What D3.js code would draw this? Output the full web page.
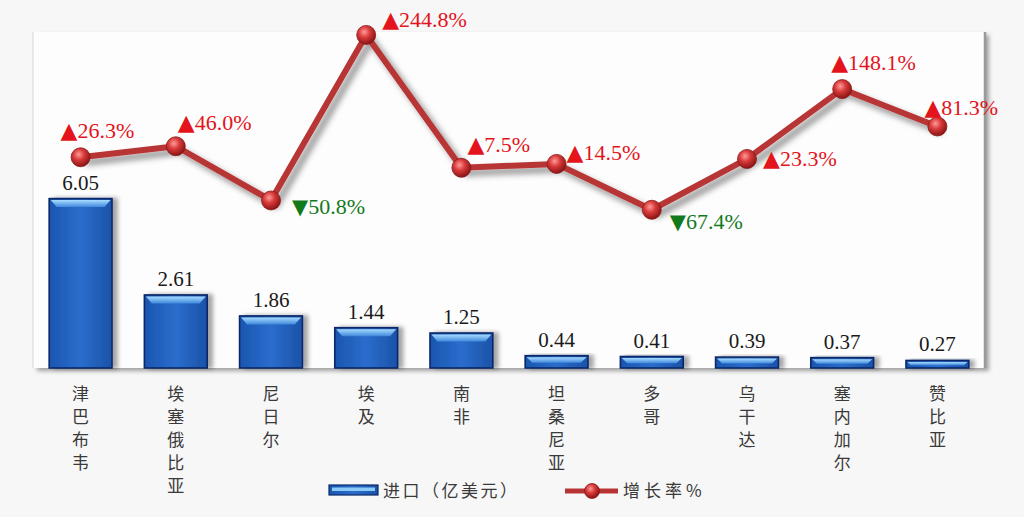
<!DOCTYPE html>
<html><head><meta charset="utf-8">
<script src="https://cdn.jsdelivr.net/npm/d3@7"></script>
<style>body{margin:0;background:#f7f7f7;overflow:hidden}</style>
</head><body>
<svg id="c" width="1024" height="517"></svg>
<script>
// ---- data ----
const categories = ["津巴布韦","埃塞俄比亚","尼日尔","埃及","南非","坦桑尼亚","多哥","乌干达","塞内加尔","赞比亚"];
const imports = [6.05, 2.61, 1.86, 1.44, 1.25, 0.44, 0.41, 0.39, 0.37, 0.27];
const growth = [26.3, 46.0, -50.8, 244.8, 7.5, 14.5, -67.4, 23.3, 148.1, 81.3];
const barTicks = [0, 2, 4, 6, 8, 10, 12];
const legendLabels = ["进口（亿美元）", "增长率%"];
// label placement offsets (layout only): [dx to text start, dy to baseline]
const growthLabelOffsets = [[-20,-19],[2,-16],[21,14],[16,-8],[6,-16],[10,-4],[18,19],[16,7],[-11,-19],[-13,-11]];

const svg = d3.select("#c");
const W = 1024, H = 517;
const plot = {l: 33, r: 985, t: 32, b: 368};

const x = d3.scaleBand().domain(categories).range([plot.l, plot.r]).paddingInner(0.34).paddingOuter(0.17);
const yBar = d3.scaleLinear().domain([0, 12]).range([plot.b, plot.t]);
const yLine = d3.scaleLinear().domain([-350, 250]).range([plot.b, plot.t]);

const defs = svg.append("defs");
const f1 = defs.append("filter").attr("id","sh").attr("x","-20%").attr("y","-20%").attr("width","150%").attr("height","150%");
f1.append("feDropShadow").attr("dx",4).attr("dy",3).attr("stdDeviation",2.2).attr("flood-color","#000").attr("flood-opacity",0.35);
const f2 = defs.append("filter").attr("id","shBar").attr("x","-20%").attr("y","-20%").attr("width","150%").attr("height","150%");
f2.append("feDropShadow").attr("dx",5).attr("dy",0).attr("stdDeviation",2).attr("flood-color","#000").attr("flood-opacity",0.35);
const f3 = defs.append("filter").attr("id","shGrid").attr("x","-5%").attr("y","-200%").attr("width","110%").attr("height","500%");
f3.append("feDropShadow").attr("dx",0).attr("dy",2).attr("stdDeviation",1).attr("flood-color","#000").attr("flood-opacity",0.18);
const f4 = defs.append("filter").attr("id","shLine").attr("x","-10%").attr("y","-10%").attr("width","130%").attr("height","130%");
f4.append("feDropShadow").attr("dx",5).attr("dy",5).attr("stdDeviation",3).attr("flood-color","#000").attr("flood-opacity",0.45);

const gBar = defs.append("linearGradient").attr("id","gBar").attr("x1",0).attr("x2",1).attr("y1",0).attr("y2",0);
gBar.append("stop").attr("offset","0%").attr("stop-color","#1a56b0");
gBar.append("stop").attr("offset","50%").attr("stop-color","#2b6dcc");
gBar.append("stop").attr("offset","100%").attr("stop-color","#1a52a8");
const gTop = defs.append("linearGradient").attr("id","gTop").attr("x1",0).attr("x2",0).attr("y1",0).attr("y2",1);
gTop.append("stop").attr("offset","0%").attr("stop-color","#a8dcff");
gTop.append("stop").attr("offset","100%").attr("stop-color","#3f88dc");
const gBall = defs.append("radialGradient").attr("id","gBall").attr("cx","40%").attr("cy","35%").attr("r","65%");
gBall.append("stop").attr("offset","0%").attr("stop-color","#ff9a9a");
gBall.append("stop").attr("offset","45%").attr("stop-color","#d83a3a");
gBall.append("stop").attr("offset","100%").attr("stop-color","#8a1414");

// page bg
svg.append("rect").attr("width",W).attr("height",H).attr("fill","#f7f7f7");
// plot area with shadow
svg.append("rect").attr("x",plot.l).attr("y",plot.t).attr("width",plot.r-plot.l).attr("height",plot.b-plot.t)
  .attr("fill","#fdfdfd").attr("filter","url(#sh)");
svg.append("line").attr("x1",plot.l).attr("x2",plot.l).attr("y1",plot.t).attr("y2",plot.b).attr("stroke","#d8d8d8").attr("stroke-width",1);

// gridlines
svg.append("g").selectAll("line").data(barTicks).join("line")
  .attr("x1",plot.l).attr("x2",plot.r).attr("y1",d=>yBar(d)).attr("y2",d=>yBar(d))
  .attr("stroke","#8a8a8a").attr("stroke-width",d=>d===0?2.5:2).attr("filter","url(#shGrid)");
// right border
svg.append("line").attr("x1",plot.r).attr("x2",plot.r).attr("y1",plot.t).attr("y2",plot.b)
  .attr("stroke","#9a9a9a").attr("stroke-width",2.5);

// bars
const bars = svg.append("g").selectAll("g").data(categories).join("g");
bars.append("rect")
  .attr("x",d=>x(d)).attr("y",(d,i)=>yBar(imports[i])).attr("width",x.bandwidth())
  .attr("height",(d,i)=>yBar(0)-yBar(imports[i]))
  .attr("fill","url(#gBar)").attr("stroke","#0b2868").attr("stroke-width",1.6).attr("filter","url(#shBar)");
bars.append("path")
  .attr("d",(d,i)=>{
    const x0=x(d)+1.5, x1=x(d)+x.bandwidth()-1.5, y0=yBar(imports[i])+1.5;
    const h=Math.min(7,(yBar(0)-yBar(imports[i]))/2-0.5), ins=Math.min(6,h);
    return `M${x0},${y0}L${x1},${y0}L${x1-ins},${y0+h}L${x0+ins},${y0+h}Z`;
  })
  .attr("fill","url(#gTop)");
bars.append("text")
  .attr("x",d=>x(d)+x.bandwidth()/2).attr("y",(d,i)=>yBar(imports[i])-9)
  .attr("text-anchor","middle").attr("font-family","Liberation Serif, serif").attr("font-size",21)
  .attr("fill","#1a1a1a").text((d,i)=>imports[i].toFixed(2));

// category labels (vertical)
const cl = svg.append("g").selectAll("text").data(categories).join("text")
  .attr("x",d=>x(d)+x.bandwidth()/2).attr("y",400)
  .attr("text-anchor","middle").attr("font-family","Noto Sans CJK SC, sans-serif").attr("font-size",17).attr("fill","#3a3a3a");
cl.selectAll("tspan").data(d=>Array.from(d)).join("tspan")
  .attr("x",function(){return this.parentNode.getAttribute("x");})
  .attr("dy",(d,i)=>i===0?0:23).text(d=>d);

// line
const pts = categories.map((c,i)=>[x(c)+x.bandwidth()/2, yLine(growth[i])]);
svg.append("path").attr("d",d3.line()(pts)).attr("fill","none").attr("stroke","#b83434")
  .attr("stroke-width",6).attr("stroke-linejoin","round").attr("filter","url(#shLine)");
svg.append("g").selectAll("circle").data(pts).join("circle")
  .attr("cx",d=>d[0]).attr("cy",d=>d[1]).attr("r",9.5)
  .attr("fill","url(#gBall)").attr("stroke","#8a1a1a").attr("stroke-width",0.8);

// growth labels
const gl = svg.append("g").selectAll("text").data(growth).join("text")
  .attr("x",(d,i)=>pts[i][0]+growthLabelOffsets[i][0])
  .attr("y",(d,i)=>pts[i][1]+growthLabelOffsets[i][1])
  .attr("font-family","Liberation Serif, serif").attr("font-size",22)
  .attr("fill",d=>d>=0?"#e3141b":"#137a1c");
gl.append("tspan").attr("font-family","DejaVu Sans, sans-serif").attr("font-size",d=>d>=0?22:21)
  .text(d=>d>=0?"▲":"▼");
gl.append("tspan").text(d=>Math.abs(d).toFixed(1)+"%");

// legend
const lg = svg.append("g");
lg.append("rect").attr("x",329).attr("y",485).attr("width",49).attr("height",10)
  .attr("fill","url(#gBar)").attr("stroke","#0b2868").attr("stroke-width",1.2);
lg.append("rect").attr("x",332).attr("y",487.5).attr("width",43).attr("height",3.5).attr("fill","#8ccaf8");
lg.append("text").attr("x",383).attr("y",497).attr("font-family","Noto Sans CJK SC, sans-serif")
  .attr("font-size",17).attr("letter-spacing",2.5).attr("fill","#3a3a3a").text(legendLabels[0]);
lg.append("line").attr("x1",565).attr("x2",618).attr("y1",491).attr("y2",491).attr("stroke","#b83434").attr("stroke-width",5);
lg.append("circle").attr("cx",592).attr("cy",491).attr("r",7.5).attr("fill","url(#gBall)").attr("stroke","#8a1a1a").attr("stroke-width",0.8);
lg.append("text").attr("x",623).attr("y",497).attr("font-family","Noto Sans CJK SC, sans-serif")
  .attr("font-size",17).attr("letter-spacing",4).attr("fill","#3a3a3a").text(legendLabels[1]);
</script>
</body></html>
